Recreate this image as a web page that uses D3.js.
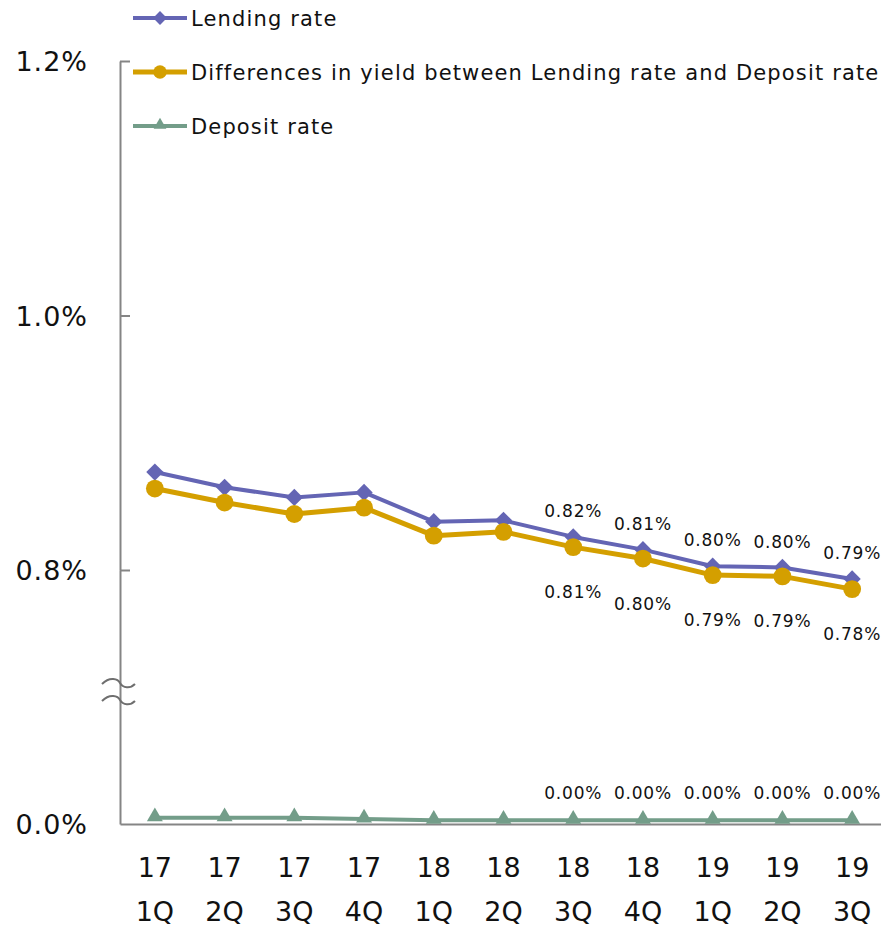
<!DOCTYPE html>
<html><head><meta charset="utf-8">
<script src="https://cdn.jsdelivr.net/npm/d3@7"></script>
<style>
html,body{margin:0;padding:0;background:#fff;}
svg{display:block;font-family:"DejaVu Sans",Verdana,sans-serif;}
</style></head>
<body>
<svg id="chart" width="881" height="933"></svg>
<script>
const years = ["17","17","17","17","18","18","18","18","19","19","19"];
const quarters = ["1Q","2Q","3Q","4Q","1Q","2Q","3Q","4Q","1Q","2Q","3Q"];
const categories = years.map((y,i)=>y+" "+quarters[i]);
const lendingRate = [0.877,0.865,0.857,0.861,0.838,0.839,0.826,0.816,0.803,0.802,0.793];
const diffRate    = [0.864,0.853,0.844,0.849,0.827,0.830,0.818,0.809,0.796,0.795,0.785];
const depositRate = [0.005,0.005,0.005,0.004,0.003,0.003,0.003,0.003,0.003,0.003,0.003];
const upperTicks = [0.8,1.0,1.2];
const lowerTicks = [0.0];
const labelFrom = 6;

const C = {lend:"#6465b4", diff:"#d49f00", dep:"#739d89", axis:"#858585", text:"#111"};

const svg = d3.select("#chart");
const x = d3.scaleBand().domain(categories).range([120, 887]);
const cx = d => x(d) + x.bandwidth()/2;
const yHi = d3.scaleLinear().domain([0.8, 1.2]).range([570, 61]);
const yLo = d3.scaleLinear().domain([0, 0.2]).range([824, 570]);
const yv = v => v >= 0.5 ? yHi(v) : yLo(v);
const fmt1 = d3.format(".1f");
const trunc2 = v => (Math.floor(v*100 + 1e-9)/100).toFixed(2) + "%";

// Y axes
const gHi = svg.append("g").attr("transform","translate(120,0)")
  .call(d3.axisLeft(yHi).tickValues(upperTicks).tickSize(-10).tickSizeOuter(0).tickPadding(32).tickFormat(d=>fmt1(d)+"%"));
const gLo = svg.append("g").attr("transform","translate(120,0)")
  .call(d3.axisLeft(yLo).tickValues(lowerTicks).tickSize(0).tickSizeOuter(0).tickPadding(32).tickFormat(d=>fmt1(d)+"%"));
[gHi,gLo].forEach(g=>{
  g.selectAll("path,line").attr("stroke",C.axis).attr("stroke-width",2);
  g.selectAll("text").attr("font-size",27).attr("letter-spacing","1px").attr("fill",C.text).attr("font-family","DejaVu Sans").attr("dy","0.36em");
});

// X axis
const gx = svg.append("g").attr("transform","translate(0,824)")
  .call(d3.axisBottom(x).tickSize(0).tickSizeOuter(0).tickFormat(""));
gx.select(".domain").attr("stroke",C.axis).attr("stroke-width",2);
gx.selectAll(".tick").each(function(d,i){
  const t = d3.select(this).append("text").attr("fill",C.text).attr("font-size",27)
    .attr("text-anchor","middle").attr("font-family","DejaVu Sans");
  t.append("tspan").attr("x",0).attr("y",53).text(years[i]);
  t.append("tspan").attr("x",0).attr("y",97).text(quarters[i]);
});

// axis break marks
const brk = svg.append("g").attr("fill","none").attr("stroke","#6f6f6f").attr("stroke-width",2);
[683,700].forEach(yy=>{
  brk.append("path").attr("d",`M102,${yy+1} C110,${yy-7} 118,${yy-4} 120,${yy} C123,${yy+5} 130,${yy+6} 135,${yy+1}`);
});

// series
const series = [
  {name:"Lending rate", vals:lendingRate, color:C.lend, w:4, marker:"diamond"},
  {name:"Differences in yield between Lending rate and Deposit rate", vals:diffRate, color:C.diff, w:5, marker:"circle"},
  {name:"Deposit rate", vals:depositRate, color:C.dep, w:4, marker:"triangle"}
];
const sym = {
  diamond: d3.symbol().type(d3.symbolDiamond2).size(190),
  circle: d3.symbol().type(d3.symbolCircle).size(250),
  triangle: d3.symbol().type(d3.symbolTriangle).size(110)
};
const line = d3.line().x((d,i)=>cx(categories[i])).y(d=>yv(d));
series.forEach(s=>{
  svg.append("path").datum(s.vals).attr("d",line).attr("fill","none")
    .attr("stroke",s.color).attr("stroke-width",s.w).attr("stroke-linejoin","round");
  svg.append("g").selectAll("path").data(s.vals).join("path")
    .attr("d",sym[s.marker])
    .attr("transform",(d,i)=>`translate(${cx(categories[i])},${yv(d) + (s.marker==="triangle"?-1:0)})`)
    .attr("fill",s.color);
});

// data labels
const lab = svg.append("g").attr("font-size",17).attr("letter-spacing","0.8px").attr("fill",C.text).attr("text-anchor","middle").attr("font-family","DejaVu Sans");
categories.forEach((c,i)=>{
  if(i<labelFrom) return;
  lab.append("text").attr("x",cx(c)).attr("y",yv(lendingRate[i])-26).attr("dy","0.36em").text(trunc2(lendingRate[i]));
  lab.append("text").attr("x",cx(c)).attr("y",yv(diffRate[i])+45).attr("dy","0.36em").text(trunc2(diffRate[i]));
  lab.append("text").attr("x",cx(c)).attr("y",yv(depositRate[i])-27).attr("dy","0.36em").text(trunc2(depositRate[i]));
});

// legend
const lg = svg.append("g");
series.forEach((s,i)=>{
  const yy = 18 + i*54;
  lg.append("line").attr("x1",133).attr("x2",187).attr("y1",yy).attr("y2",yy)
    .attr("stroke",s.color).attr("stroke-width",s.w);
  lg.append("path").attr("d",sym[s.marker]).attr("transform",`translate(160,${yy - (s.marker==="triangle"?1:0)}) scale(${s.marker==="circle"?0.75:0.8})`).attr("fill",s.color);
  lg.append("text").attr("x",191).attr("y",yy).attr("dy","0.36em").attr("font-size",21)
    .attr("letter-spacing","1.15px").attr("fill",C.text).attr("font-family","DejaVu Sans").text(s.name);
});
</script>
</body></html>
